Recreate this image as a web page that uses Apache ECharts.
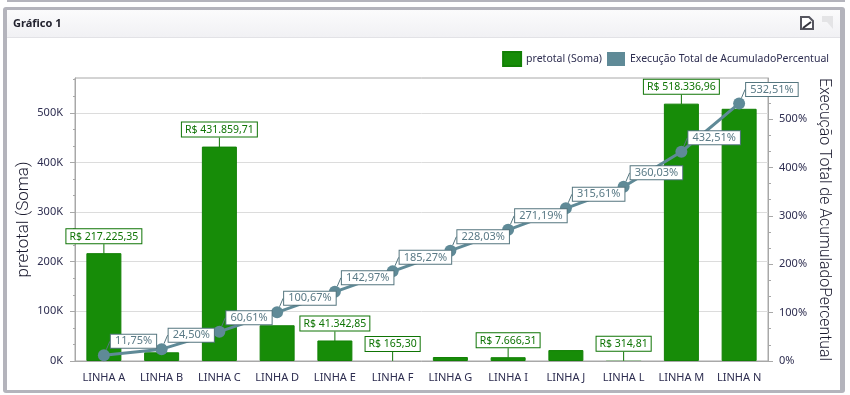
<!DOCTYPE html>
<html>
<head>
<meta charset="utf-8">
<style>html,body{margin:0;padding:0;background:#fff}#c{width:850px;height:395px}</style>
<script src="https://cdn.jsdelivr.net/npm/echarts@6/dist/echarts.min.js"></script>
</head>
<body>
<div id="c"></div>
<script>
const categories = ['LINHA A','LINHA B','LINHA C','LINHA D','LINHA E','LINHA F','LINHA G','LINHA I','LINHA J','LINHA L','LINHA M','LINHA N'];
const pretotal = [217225.35,17500,431859.71,72000,41342.85,165.30,8000,7666.31,22000,314.81,518336.96,508000];
const barLabelShown = [true,false,true,false,true,true,false,true,false,true,true,false];
const acumulado = [11.75,24.50,60.61,100.67,142.97,185.27,228.03,271.19,315.61,360.03,432.51,532.51];
const leftTicks = [0,100000,200000,300000,400000,500000];
const rightTicks = [0,100,200,300,400,500];
const leftMax = 570000, rightMax = 585;
const seriesNames = ['pretotal (Soma)','Execução Total de AcumuladoPercentual'];
const title = 'Gráfico 1';

const FONT = 'Noto Sans';
const TXT = '#2d2d50', NAME='#1c1c30', GREEN='#178c08', GREEN_D='#0f7405', TEAL='#5f8a97', TEAL_D='#55767f', AX='#a8a8a8';

function brl(v){
  const p = v.toFixed(2).split('.');
  return 'R$ ' + p[0].replace(/\B(?=(\d{3})+$)/g,'.') + ',' + p[1];
}
function thirds(step,max){const a=[];for(let i=0;i*step/3<=max;i++){if(i%3)a.push(i*step/3);}return a;}

const chart = echarts.init(document.getElementById('c'),null,{renderer:'canvas'});
const hiddenAxis = {axisLine:{show:false},axisLabel:{show:false},splitLine:{show:false}};
chart.setOption({
  animation:false,
  backgroundColor:'#fff',
  title:{text:title,left:13,top:18,padding:0,textStyle:{fontFamily:FONT,fontSize:11,fontWeight:'bold',color:'#22222e'}},
  graphic:[
    {type:'rect',z:-10,silent:true,shape:{x:7,y:0,width:838,height:2},style:{fill:'#b4b4bc'}},
    {type:'rect',z:-10,silent:true,shape:{x:3,y:7,width:842,height:386,r:3},style:{fill:'#b4b4bc'}},
    {type:'rect',z:-9,silent:true,shape:{x:7,y:10,width:833,height:380},style:{fill:'#fff'}},
    {type:'rect',z:-8,silent:true,shape:{x:7,y:10,width:833,height:27},style:{fill:new echarts.graphic.LinearGradient(0,0,0,1,[{offset:0,color:'#fbfbfc'},{offset:1,color:'#f1f1f4'}])}},
    {type:'rect',z:-8,silent:true,shape:{x:7,y:37,width:833,height:1},style:{fill:'#e2e2e6'}},
    {type:'polygon',z:5,silent:true,shape:{points:[[801,17],[809,17],[813,21],[813,29],[801,29]]},style:{fill:'#fff',stroke:'#55555f',lineWidth:2}},
    {type:'polyline',z:5,silent:true,shape:{points:[[803,28],[811,22]]},style:{fill:'none',stroke:'#33333c',lineWidth:2}},
    {type:'polygon',z:5,silent:true,shape:{points:[[822,16],[833,16],[833,29],[827,22],[822,22]]},style:{fill:'#e4e4e6'}}
  ],
  legend:{
    right:21,top:51,padding:0,itemWidth:18,itemHeight:14,itemGap:5,
    textStyle:{fontFamily:FONT,fontSize:10.5,color:TXT},
    data:[{name:seriesNames[0],icon:'rect'},{name:seriesNames[1],icon:'rect'}]
  },
  grid:{left:75,top:78,width:693,height:283,show:true,borderColor:AX,borderWidth:1,backgroundColor:'transparent'},
  xAxis:[
    {type:'category',data:categories,position:'bottom',
      axisLine:{onZero:false,lineStyle:{color:AX}},
      axisTick:{alignWithLabel:true,length:5,lineStyle:{color:AX}},
      axisLabel:{interval:0,margin:11,fontFamily:FONT,fontSize:11,color:TXT}},
    {type:'category',data:Array.from({length:categories.length*5},(_, i)=>String(i)),position:'bottom',
      axisLine:{show:false,onZero:false},axisLabel:{show:false},splitLine:{show:false},
      axisTick:{alignWithLabel:true,interval:0,length:3,lineStyle:{color:AX}}}
  ],
  yAxis:[
    {type:'value',position:'left',min:0,max:leftMax,
      name:seriesNames[0],nameLocation:'middle',nameGap:43,nameMoveOverlap:false,
      nameTextStyle:{fontFamily:'Roboto',fontSize:17,fontWeight:300,color:NAME},
      axisLine:{show:true,lineStyle:{color:AX}},
      axisTick:{show:true,length:5,customValues:leftTicks,lineStyle:{color:AX}},
      axisLabel:{customValues:leftTicks,margin:12,fontFamily:FONT,fontSize:11,color:TXT,formatter:v=>(v/1000)+'K'},
      splitLine:{show:true,lineStyle:{color:'#dcdcdc'}}},
    {type:'value',position:'right',min:0,max:rightMax,
      name:seriesNames[1],nameLocation:'middle',nameGap:48,nameRotate:-90,nameMoveOverlap:false,
      nameTextStyle:{fontFamily:'Roboto',fontSize:15.8,fontWeight:300,color:NAME},
      axisLine:{show:true,lineStyle:{color:AX}},
      axisTick:{show:true,length:5,customValues:rightTicks,lineStyle:{color:AX}},
      axisLabel:{customValues:rightTicks,margin:11,fontFamily:FONT,fontSize:11,color:TXT,formatter:v=>v+'%'},
      splitLine:{show:false}},
    Object.assign({type:'value',position:'left',min:0,max:leftMax,axisTick:{show:true,length:2,customValues:thirds(100000,leftMax),lineStyle:{color:AX}}},hiddenAxis),
    Object.assign({type:'value',position:'right',min:0,max:rightMax,axisTick:{show:true,length:3,customValues:thirds(100,rightMax),lineStyle:{color:AX}}},hiddenAxis)
  ],
  series:[
    {name:seriesNames[0],type:'bar',xAxisIndex:0,yAxisIndex:0,barWidth:35,z:2,
      itemStyle:{color:GREEN,borderColor:'#128005',borderWidth:1},
      data:pretotal.map((v,i)=>({value:v,
        itemStyle:{borderWidth:v<1000?0:1},
        label:{show:barLabelShown[i]},
        labelLine:{show:barLabelShown[i]}})),
      label:{position:'top',distance:0,formatter:p=>brl(p.value),
        fontFamily:FONT,fontSize:10.5,color:GREEN_D,backgroundColor:'#fff',borderColor:GREEN_D,borderWidth:1,padding:[2,3,1,3]},
      labelLayout:{dy:-10},
      labelLine:{lineStyle:{color:GREEN_D,width:1}}},
    {name:seriesNames[1],type:'line',xAxisIndex:0,yAxisIndex:1,z:4,
      symbol:'circle',symbolSize:12,
      lineStyle:{color:TEAL,width:3},
      itemStyle:{color:TEAL},
      data:acumulado,
      label:{show:true,position:'right',distance:0,formatter:p=>p.value.toFixed(2).replace('.',',')+'%',
        fontFamily:FONT,fontSize:11,color:'#5a7a86',backgroundColor:'#fff',borderColor:TEAL_D,borderWidth:1,padding:[1,4,1,4]},
      labelLayout:{dy:-14,dx:1},
      labelLine:{show:true,lineStyle:{color:TEAL_D,width:1}}}
  ]
});
</script>
</body>
</html>
